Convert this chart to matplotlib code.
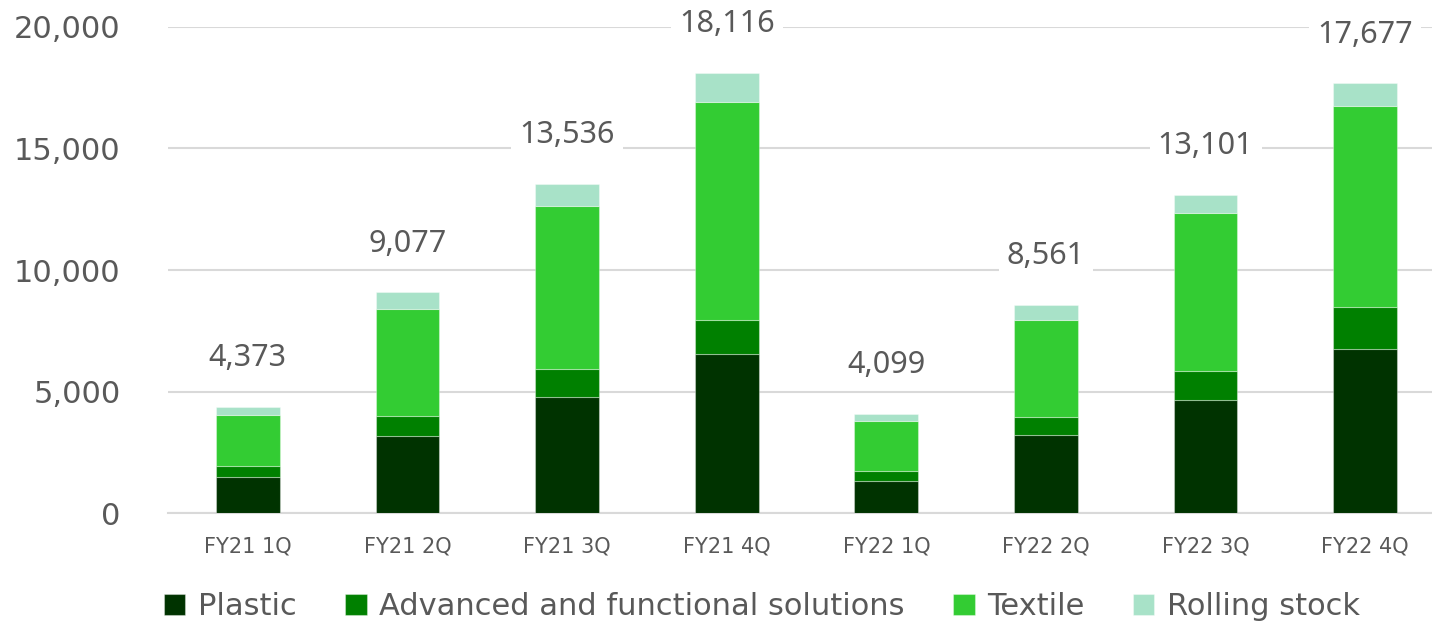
import numpy as np
import matplotlib.pyplot as plt

quarters = ["FY21 1Q", "FY21 2Q", "FY21 3Q", "FY21 4Q",
            "FY22 1Q", "FY22 2Q", "FY22 3Q", "FY22 4Q"]
plastic = [1480, 3160, 4800, 6540, 1340, 3200, 4670, 6735]
advanced = [460, 850, 1150, 1410, 400, 770, 1165, 1730]
textile = [2110, 4400, 6660, 8970, 2040, 3980, 6495, 8265]
rolling = [323, 667, 926, 1196, 319, 611, 771, 947]
totals = [4373, 9077, 13536, 18116, 4099, 8561, 13101, 17677]

series = ["Plastic", "Advanced and functional solutions", "Textile", "Rolling stock"]
colors = ["#003300", "#008000", "#33CC33", "#A8E2C8"]

plt.rcParams['font.family'] = ['DejaVu Sans']

fig = plt.figure(figsize=(14.32, 6.24), dpi=100)
ax = fig.add_axes([168 / 1432, 1 - 513.3 / 624, 1277 / 1432, 486.6 / 624])

x = np.arange(len(quarters))
bottom = np.zeros(len(quarters))
handles = []
for vals, name, col in zip([plastic, advanced, textile, rolling], series, colors):
    b = ax.bar(x, vals, 0.4, bottom=bottom, color=col, label=name,
               edgecolor=(1, 1, 1, 0.35), linewidth=0.8, zorder=3)
    handles.append(b)
    bottom += np.array(vals)

# totals above bars, white box breaks the gridline
for xi, t in zip(x, totals):
    ax.annotate(f"{t:,}", (xi, t), xytext=(0, 35), textcoords="offset points",
                ha="center", va="center", fontsize=22, color="#595959",
                family=["Noto Sans", "DejaVu Sans"],
                bbox=dict(facecolor="white", edgecolor="none", pad=6),
                zorder=5, annotation_clip=False)

ax.set_xlim(-0.5, 7.5)
ax.set_ylim(0, 20000)
ax.set_yticks([0, 5000, 10000, 15000, 20000])
ax.set_yticklabels([f"{v:,}" for v in [0, 5000, 10000, 15000, 20000]])
ax.set_xticks(x)
ax.set_xticklabels(quarters)
ax.tick_params(axis="y", length=0, pad=34, labelsize=22, labelcolor="#595959")
ax.tick_params(axis="x", length=0, pad=17, labelsize=15, labelcolor="#595959")
ax.grid(axis="y", color="#D9D9D9", linewidth=1.5, zorder=0)
for s in ["left", "right", "top"]:
    ax.spines[s].set_visible(False)
ax.spines["bottom"].set_color("#D9D9D9")
ax.spines["bottom"].set_linewidth(1.5)

fig.legend(handles=handles, labels=series, loc="center", bbox_to_anchor=(0.532, 0.028),
           ncol=4, frameon=False, fontsize=22, labelcolor="#595959",
           handlelength=0.7, handleheight=0.7, handletextpad=0.4, columnspacing=1.6)

fig.savefig("out.png", dpi=100)
